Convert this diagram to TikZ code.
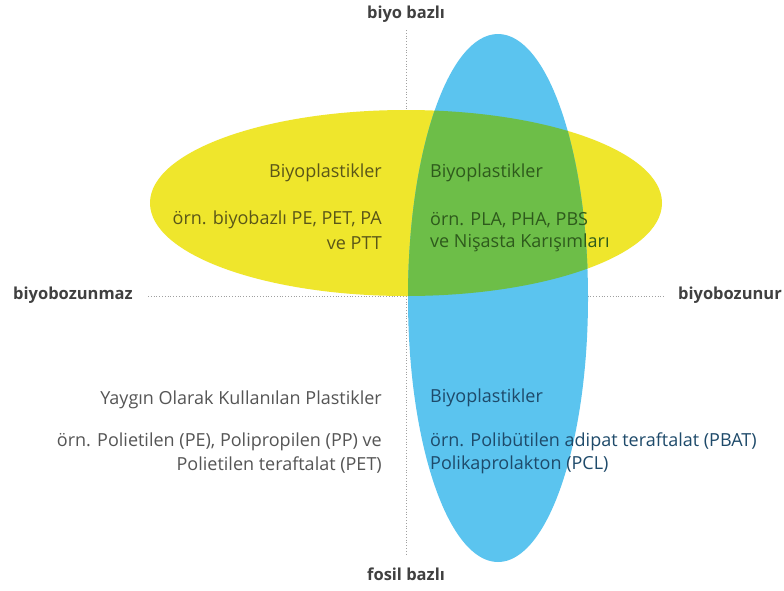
\documentclass[tikz,border=0pt]{standalone}
\usepackage{fontspec}
\setmainfont{Open Sans}
\definecolor{ylw}{HTML}{EFE62C}
\definecolor{blu}{HTML}{5BC4EF}
\definecolor{grn}{HTML}{6DBE48}
\definecolor{ytxt}{HTML}{5A5618}
\definecolor{gtxt}{HTML}{2E5A1C}
\definecolor{btxt}{HTML}{1E4A6A}
\definecolor{gtx}{HTML}{555555}
\definecolor{axis}{HTML}{A0A0A0}
\begin{document}
\begin{tikzpicture}[x=1pt,y=-1pt,
  axislbl/.style={font=\bfseries\fontsize{16.5}{18}\selectfont, text=black!75, inner sep=0pt},
  txt/.style={font=\fontsize{18}{23}\selectfont, inner sep=0pt},
  dotline/.style={draw=axis, dotted, line width=0.8pt}]
\useasboundingbox (0,0) rectangle (784,590);
\fill[white] (0,0) rectangle (784,590);
% axes
\coordinate (vt) at (406,30);
\coordinate (vb) at (406,556);
\coordinate (hl) at (148,296);
\coordinate (hr) at (665,296);
\draw[dotline] (vt) -- (vb);
\draw[dotline] (hl) -- (hr);
% ellipses
\fill[ylw] (406,203) ellipse [x radius=256, y radius=93];
\fill[blu] (498,298) ellipse [x radius=90, y radius=264];
\begin{scope}
  \clip (406,203) ellipse [x radius=256, y radius=93];
  \fill[grn] (498,298) ellipse [x radius=90, y radius=264];
\end{scope}
% axis labels
\node[axislbl] (top) at (406,14) {biyo bazlı};
\node[axislbl] (bot) at (406,574) {fosil bazlı};
\node[axislbl, anchor=west] (lft) at (13,295) {biyobozunmaz};
\node[axislbl, anchor=east] (rgt) at (782,295) {biyobozunur};
% quadrant texts
\node[txt, text=ytxt, anchor=east] (ul1) at (382,173) {Biyoplastikler};
\node[txt, text=ytxt, anchor=east] (ul2) at (382,220) {örn. biyobazlı PE, PET, PA};
\node[txt, text=ytxt, anchor=east] (ul3) at (382,243) {ve PTT};
\node[txt, text=gtxt, anchor=west] (ur1) at (430,173) {Biyoplastikler};
\node[txt, text=gtxt, anchor=west] (ur2) at (430,220) {örn. PLA, PHA, PBS};
\node[txt, text=gtxt, anchor=west] (ur3) at (430,243) {ve Nişasta Karışımları};
\node[txt, text=gtx, anchor=east] (ll1) at (382,400) {Yaygın Olarak Kullanılan Plastikler};
\node[txt, text=gtx, anchor=east] (ll2) at (382,442) {örn. Polietilen (PE), Polipropilen (PP) ve};
\node[txt, text=gtx, anchor=east] (ll3) at (382,465) {Polietilen teraftalat (PET)};
\node[txt, text=btxt, anchor=west] (lr1) at (430,398) {Biyoplastikler};
\node[txt, text=btxt, anchor=west] (lr2) at (430,442) {örn. Polibütilen adipat teraftalat (PBAT)};
\node[txt, text=btxt, anchor=west] (lr3) at (430,465) {Polikaprolakton (PCL)};
\end{tikzpicture}
\end{document}
